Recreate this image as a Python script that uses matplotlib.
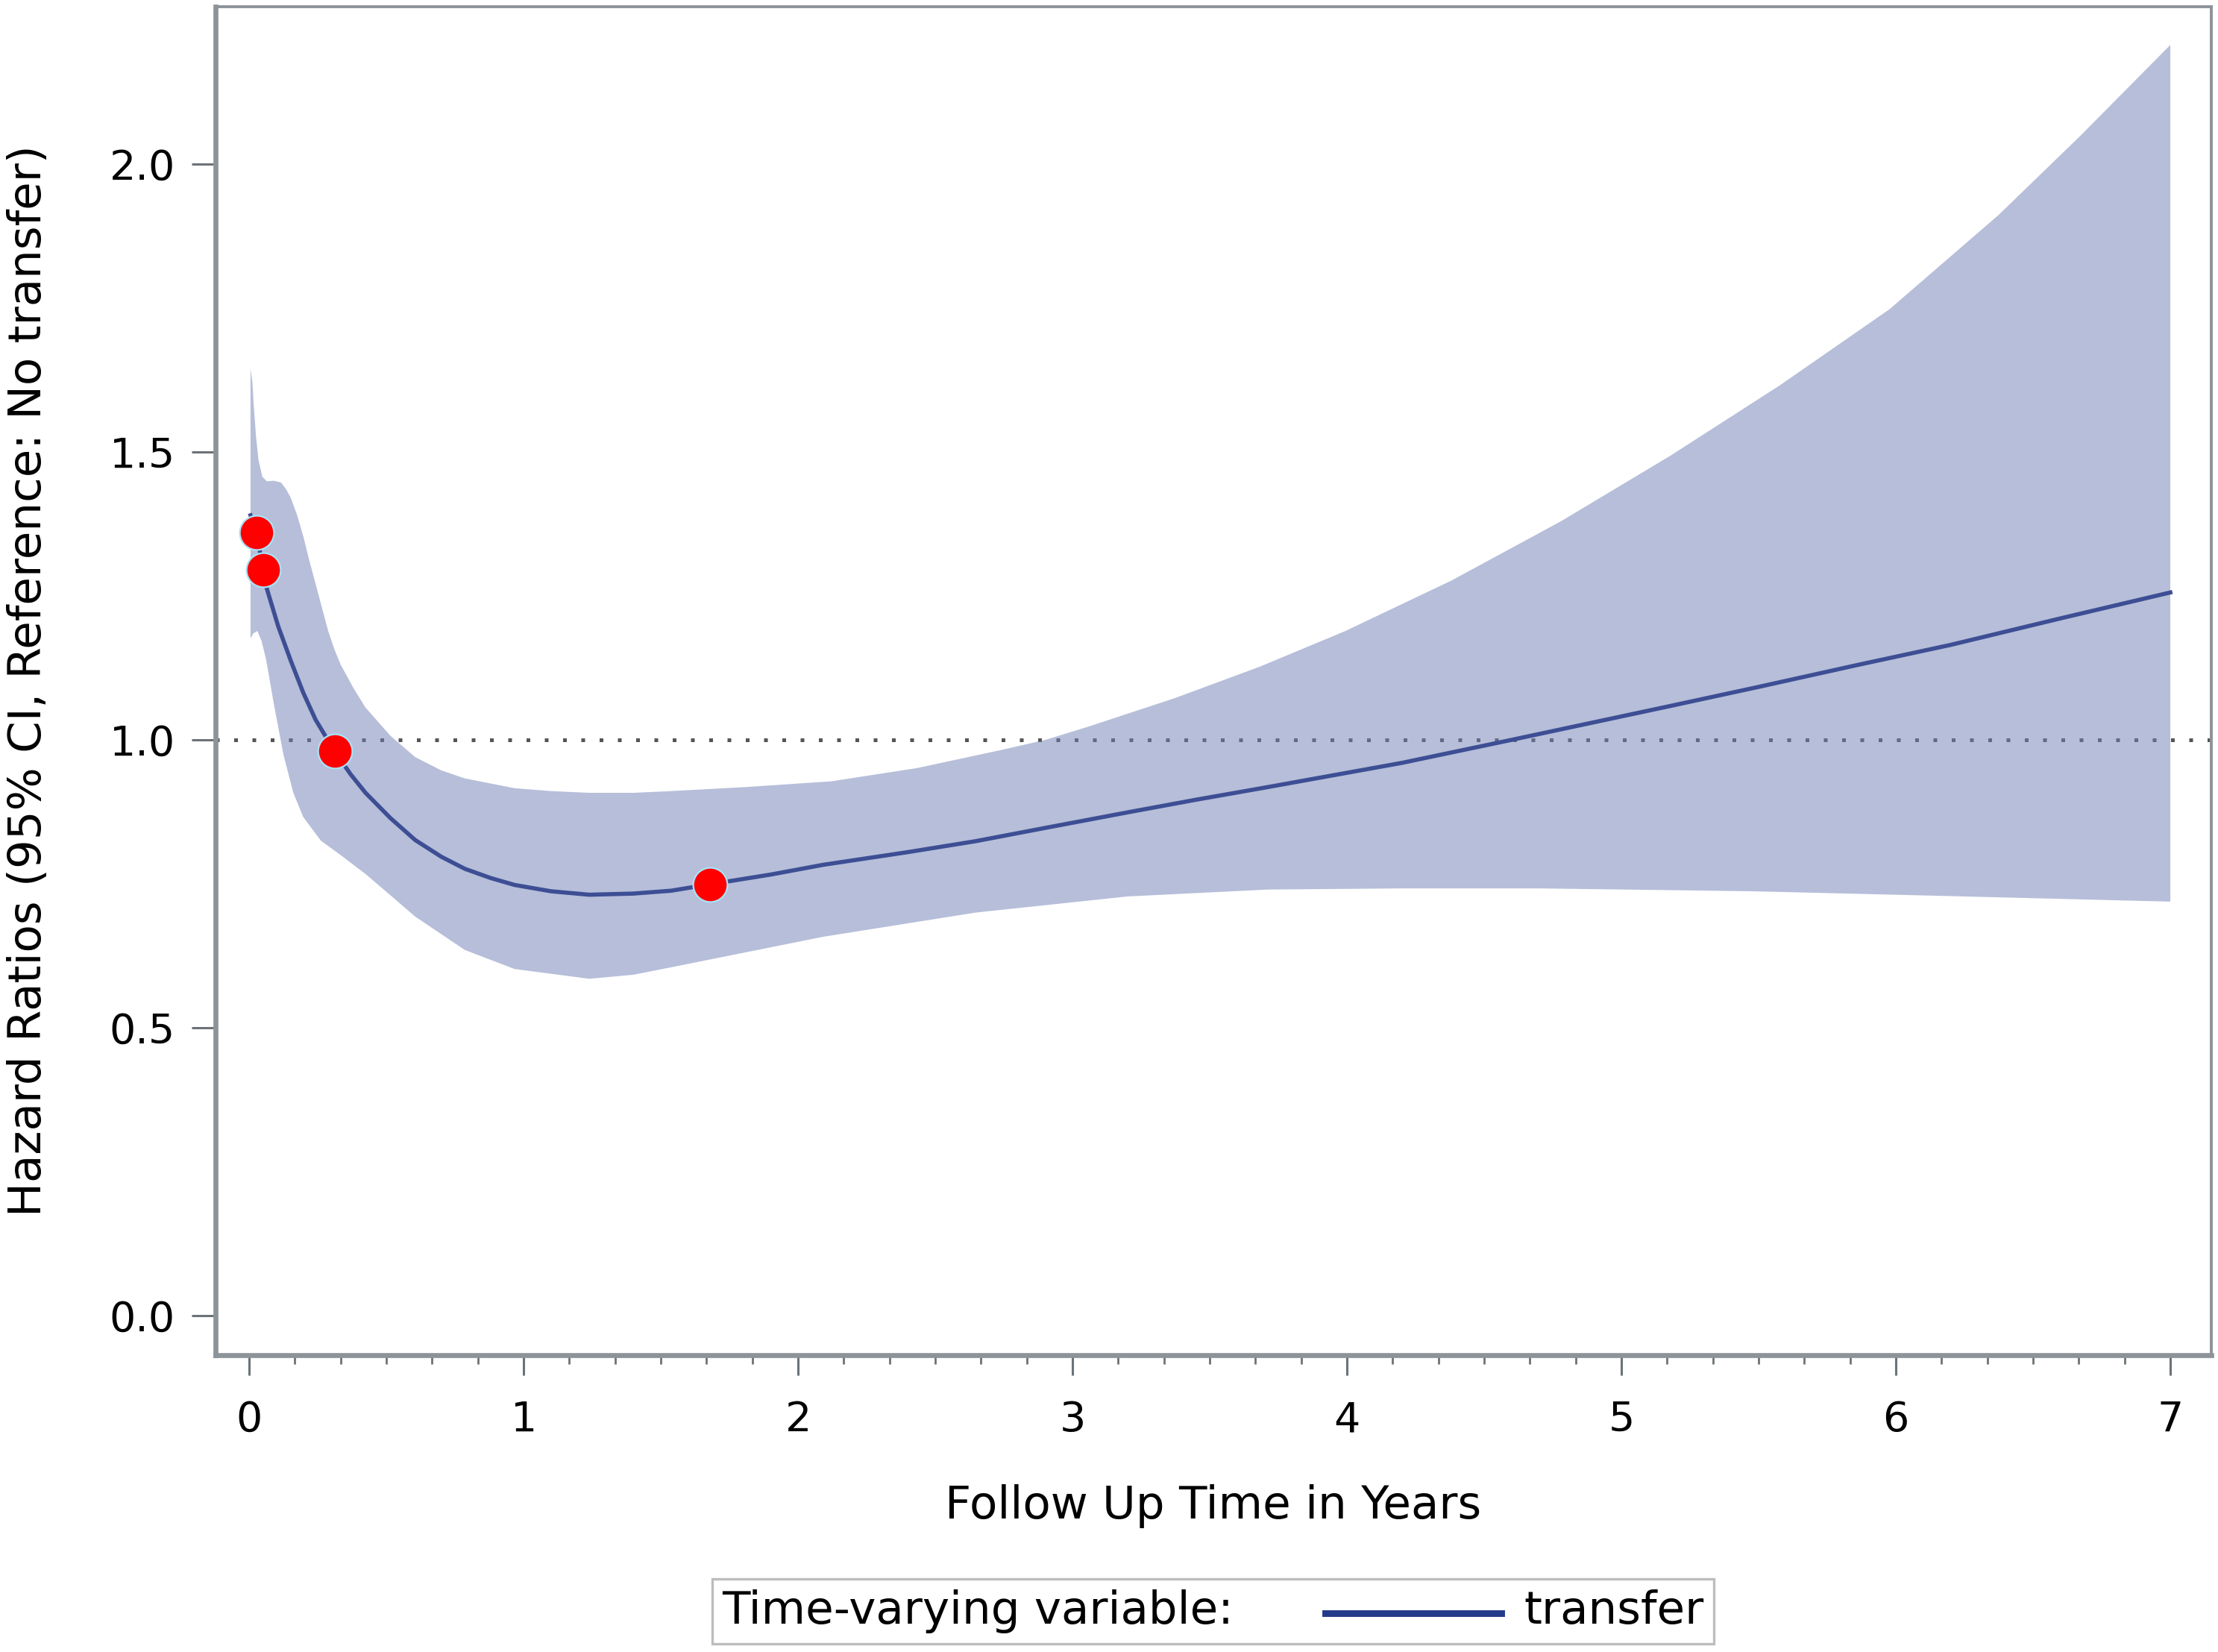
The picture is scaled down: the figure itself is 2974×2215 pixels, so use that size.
import numpy as np
import matplotlib
matplotlib.use('Agg')
import matplotlib.pyplot as plt
from matplotlib.ticker import MultipleLocator, FixedLocator
from matplotlib.lines import Line2D
from matplotlib.offsetbox import TextArea, DrawingArea, HPacker, AnchoredOffsetbox

# Hazard ratio curve
t_hr = [0.005, 0.026, 0.052, 0.063, 0.08, 0.106, 0.152, 0.197, 0.242, 0.31, 0.37,
        0.424, 0.515, 0.605, 0.7, 0.786, 0.88, 0.967, 1.1, 1.239, 1.4, 1.538, 1.678,
        1.9, 2.092, 2.4, 2.647, 2.9, 3.2, 3.45, 3.712, 4.2, 4.6, 5.17, 5.5,
        5.85, 6.2, 6.6, 7.0]
hr = [1.39, 1.36, 1.295, 1.265, 1.238, 1.197, 1.137, 1.082, 1.035, 0.981, 0.940,
      0.908, 0.864, 0.826, 0.797, 0.776, 0.760, 0.748, 0.737, 0.731, 0.733, 0.738, 0.749,
      0.766, 0.783, 0.805, 0.824, 0.847, 0.874, 0.896, 0.918, 0.960, 1.000, 1.058, 1.092,
      1.129, 1.165, 1.211, 1.256]

# Upper 95% CI
t_upper = [0.005, 0.012, 0.016, 0.025, 0.034, 0.048, 0.065, 0.09, 0.116, 0.135, 0.152,
           0.175, 0.197, 0.22, 0.242, 0.265, 0.288, 0.31, 0.333, 0.38, 0.424, 0.515,
           0.605, 0.7, 0.786, 0.967, 1.1, 1.239, 1.4, 1.538, 1.81, 2.122, 2.434, 2.746,
           2.902, 3.058, 3.37, 3.682, 3.994, 4.382, 4.781, 5.18, 5.578, 5.977, 6.375,
           6.674, 7.0]
upper = [1.645, 1.62, 1.585, 1.527, 1.486, 1.457, 1.449, 1.450, 1.447, 1.435, 1.42,
         1.39, 1.354, 1.31, 1.271, 1.23, 1.189, 1.158, 1.131, 1.09, 1.056, 1.007,
         0.970, 0.947, 0.933, 0.916, 0.911, 0.908, 0.908, 0.911, 0.918, 0.928, 0.951, 0.983,
         1.000, 1.023, 1.072, 1.127, 1.189, 1.277, 1.380, 1.494, 1.616, 1.748, 1.912,
         2.050, 2.207]

# Lower 95% CI
t_lower = [0.005, 0.015, 0.03, 0.045, 0.062, 0.089, 0.125, 0.161, 0.197, 0.261, 0.333,
           0.424, 0.515, 0.605, 0.786, 0.967, 1.239, 1.4, 1.538, 2.092, 2.647, 3.2,
           3.712, 4.2, 4.7, 5.17, 5.478, 6.0, 6.5, 7.0]
lower = [1.176, 1.185, 1.189, 1.172, 1.139, 1.065, 0.974, 0.908, 0.866, 0.825, 0.800,
         0.767, 0.730, 0.693, 0.635, 0.602, 0.585, 0.592, 0.605, 0.658, 0.700, 0.728,
         0.740, 0.742, 0.742, 0.739, 0.737, 0.731, 0.725, 0.719]

# Observed points
t_points = [0.026, 0.052, 0.313, 1.678]
hr_points = [1.360, 1.295, 0.981, 0.749]

x_ticks = [0, 1, 2, 3, 4, 5, 6, 7]
y_ticks = [0.0, 0.5, 1.0, 1.5, 2.0]
y_ticklabels = ['0.0', '0.5', '1.0', '1.5', '2.0']
ref_value = 1.0

fig = plt.figure(figsize=(14.87, 11.075), dpi=200)
ax = fig.add_axes([0.0972, 0.1797, 0.8998, 0.8162])

# band
band_x = np.concatenate([t_upper, t_lower[::-1]])
band_y = np.concatenate([upper, lower[::-1]])
ax.fill(band_x, band_y, color='#6F7FB5', alpha=0.5, lw=0, zorder=2)

# reference line
ax.axhline(ref_value, color='#555555', lw=1.8, ls=(0, (1, 3.9)), zorder=1)

# curve and points
ax.plot(t_hr, hr, color='#3D4E94', lw=2.0, zorder=3)
ax.plot(t_points, hr_points, 'o', ms=16.5, mfc='#FF0000', mec='#A8E4F8', mew=0.8, zorder=4)

ax.set_xlim(-0.1223, 7.1495)
ax.set_ylim(-0.0687, 2.2733)

ax.xaxis.set_major_locator(FixedLocator(x_ticks))
ax.xaxis.set_minor_locator(MultipleLocator(1 / 6))
ax.set_yticks(y_ticks)
ax.set_yticklabels(y_ticklabels)

tick_col = '#6B7378'
ax.tick_params(axis='x', which='major', length=9.7, width=1.1, color=tick_col, labelsize=20, pad=12)
ax.tick_params(axis='x', which='minor', length=4.3, width=1.0, color=tick_col)
ax.tick_params(axis='y', which='major', length=11.5, width=1.1, color=tick_col, labelsize=20, pad=8)

for side in ['left', 'bottom']:
    ax.spines[side].set_linewidth(2.4)
    ax.spines[side].set_color('#8C9399')
for side in ['top', 'right']:
    ax.spines[side].set_linewidth(1.4)
    ax.spines[side].set_color('#8C9399')

ax.set_xlabel('Follow Up Time in Years', fontsize=22)
ax.xaxis.set_label_coords(0.5, -0.1123)
ax.xaxis.label.set_va('center')
ax.set_ylabel('Hazard Ratios (95% CI, Reference: No transfer)', fontsize=22)
ax.yaxis.set_label_coords(-0.0938, 0.5)
ax.yaxis.label.set_va('center')

# legend box at the bottom
txt_kw = dict(fontsize=22, color='black')
title_area = TextArea('Time-varying variable:', textprops=txt_kw)
line_area = DrawingArea(118, 20, 0, 0)
line_area.add_artist(Line2D([33, 118], [9, 9], color='#233A8A', lw=3.2))
label_area = TextArea('transfer', textprops=txt_kw)
packed = HPacker(children=[title_area, line_area, label_area], align='center', pad=0, sep=11)
box = AnchoredOffsetbox(loc='center', child=packed, pad=0.5, borderpad=0, frameon=True,
                        bbox_to_anchor=(0.5469, 0.0246), bbox_transform=fig.transFigure)
box.patch.set_edgecolor('#BDBDBD')
box.patch.set_linewidth(1.2)
fig.add_artist(box)

fig.savefig('out.png', dpi=200)
